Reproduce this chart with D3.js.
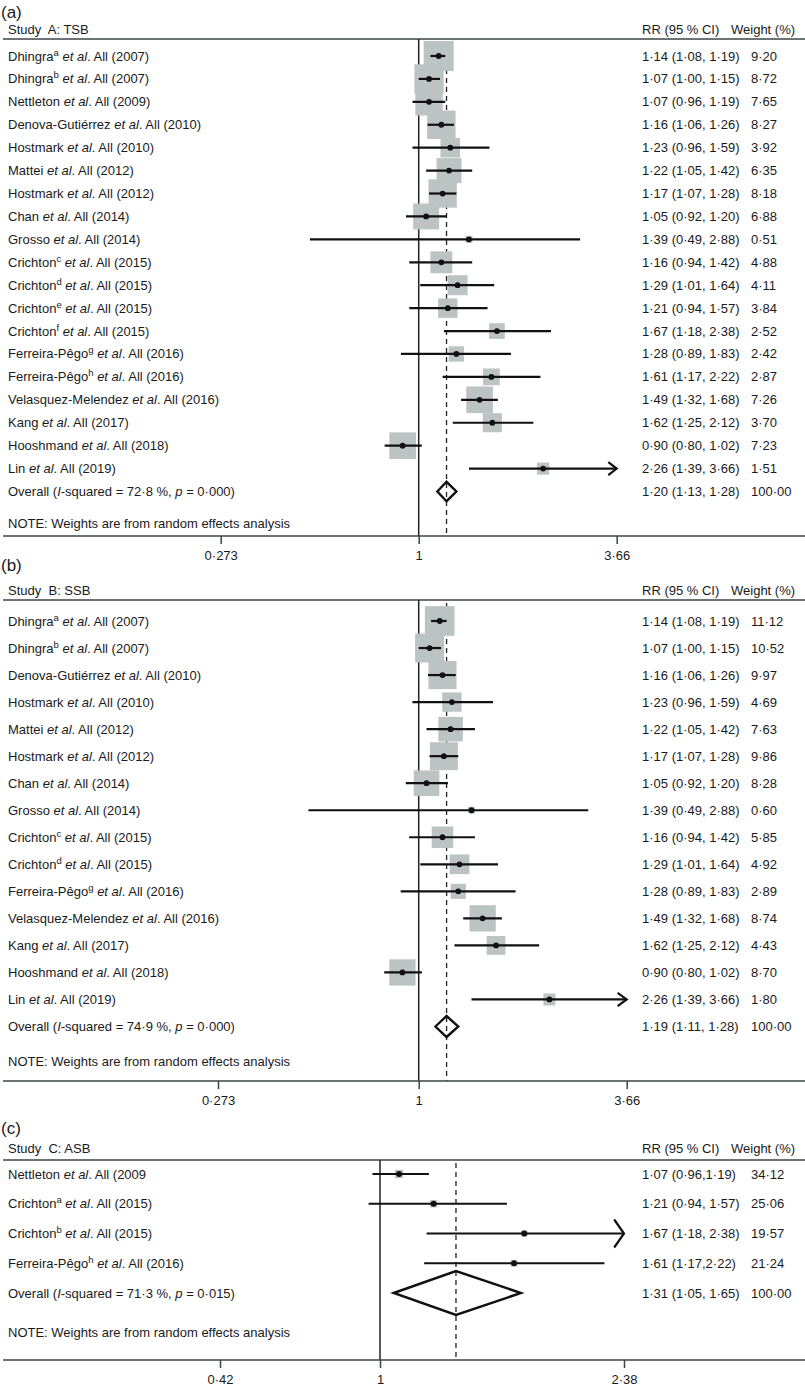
<!DOCTYPE html>
<html>
<head>
<meta charset="utf-8">
<script src="https://cdn.jsdelivr.net/npm/d3@7"></script>
<style>
  body { margin: 0; background: #fff; }
  svg { display: block; font-family: "Liberation Sans", Arial, sans-serif; }
  svg text { white-space: pre; fill: #1a1a1a; }
</style>
</head>
<body>
<svg id="chart" width="805" height="1391"></svg>
<script>
// ---- A: TSB ----
const authorsA = ["Dhingra", "Dhingra", "Nettleton", "Denova-Gutiérrez", "Hostmark", "Mattei", "Hostmark", "Chan", "Grosso",
  "Crichton", "Crichton", "Crichton", "Crichton", "Ferreira-Pêgo", "Ferreira-Pêgo", "Velasquez-Melendez", "Kang", "Hooshmand", "Lin"];
const supsA = ["a", "b", "", "", "", "", "", "", "", "c", "d", "e", "f", "g", "h", "", "", "", ""];
const yearsA = ["(2007)", "(2007)", "(2009)", "(2010)", "(2010)", "(2012)", "(2012)", "(2014)", "(2014)", "(2015)", "(2015)",
  "(2015)", "(2015)", "(2016)", "(2016)", "(2016)", "(2017)", "(2018)", "(2019)"];
const rrA = [1.14, 1.07, 1.07, 1.16, 1.23, 1.22, 1.17, 1.05, 1.39, 1.16, 1.29, 1.21, 1.67, 1.28, 1.61, 1.49, 1.62, 0.90, 2.26];
const loA = [1.08, 1.00, 0.96, 1.06, 0.96, 1.05, 1.07, 0.92, 0.49, 0.94, 1.01, 0.94, 1.18, 0.89, 1.17, 1.32, 1.25, 0.80, 1.39];
const hiA = [1.19, 1.15, 1.19, 1.26, 1.59, 1.42, 1.28, 1.20, 2.88, 1.42, 1.64, 1.57, 2.38, 1.83, 2.22, 1.68, 2.12, 1.02, 3.66];
const weightA = [9.20, 8.72, 7.65, 8.27, 3.92, 6.35, 8.18, 6.88, 0.51, 4.88, 4.11, 3.84, 2.52, 2.42, 2.87, 7.26, 3.70, 7.23, 1.51];
const overallA = [1.20, 1.13, 1.28];
const totalWeightA = 100.00;
const statsA = ["72·8", "0·000"];
const ticksA = [0.273, 1, 3.66];
const tickLabelsA = ["0·273", "1", "3·66"];

// ---- B: SSB ----
const authorsB = ["Dhingra", "Dhingra", "Denova-Gutiérrez", "Hostmark", "Mattei", "Hostmark", "Chan", "Grosso", "Crichton",
  "Crichton", "Ferreira-Pêgo", "Velasquez-Melendez", "Kang", "Hooshmand", "Lin"];
const supsB = ["a", "b", "", "", "", "", "", "", "c", "d", "g", "", "", "", ""];
const yearsB = ["(2007)", "(2007)", "(2010)", "(2010)", "(2012)", "(2012)", "(2014)", "(2014)", "(2015)", "(2015)", "(2016)",
  "(2016)", "(2017)", "(2018)", "(2019)"];
const rrB = [1.14, 1.07, 1.16, 1.23, 1.22, 1.17, 1.05, 1.39, 1.16, 1.29, 1.28, 1.49, 1.62, 0.90, 2.26];
const loB = [1.08, 1.00, 1.06, 0.96, 1.05, 1.07, 0.92, 0.49, 0.94, 1.01, 0.89, 1.32, 1.25, 0.80, 1.39];
const hiB = [1.19, 1.15, 1.26, 1.59, 1.42, 1.28, 1.20, 2.88, 1.42, 1.64, 1.83, 1.68, 2.12, 1.02, 3.66];
const weightB = [11.12, 10.52, 9.97, 4.69, 7.63, 9.86, 8.28, 0.60, 5.85, 4.92, 2.89, 8.74, 4.43, 8.70, 1.80];
const overallB = [1.19, 1.11, 1.28];
const totalWeightB = 100.00;
const statsB = ["74·9", "0·000"];
const ticksB = [0.273, 1, 3.66];
const tickLabelsB = ["0·273", "1", "3·66"];

// ---- C: ASB ----
const authorsC = ["Nettleton", "Crichton", "Crichton", "Ferreira-Pêgo"];
const supsC = ["", "a", "b", "h"];
const yearsC = ["(2009", "(2015)", "(2015)", "(2016)"];
const rrC = [1.07, 1.21, 1.67, 1.61];
const loC = [0.96, 0.94, 1.18, 1.17];
const hiC = [1.19, 1.57, 2.38, 2.22];
const ciSepC = [",", ", ", ", ", ","];
const weightC = [34.12, 25.06, 19.57, 21.24];
const overallC = [1.31, 1.05, 1.65];
const totalWeightC = 100.00;
const statsC = ["71·3", "0·015"];
const ticksC = [0.42, 1, 2.38];
const tickLabelsC = ["0·42", "1", "2·38"];

const svg = d3.select("#chart");
const f2 = v => d3.format(".2f")(v).replace(".", "·");
const FS = 13;
const LINE = "#3d4545";

function drawPanel(cfg, d) {
  const g = svg.append("g");
  const n = d.rr.length;
  const x = d3.scaleLog().domain(d.ticks).range(cfg.xr);
  const y = d3.scaleLinear().domain([0, n]).range([cfg.rowTop, cfg.rowBot]);
  const xMax = d3.max(d.ticks);

  g.append("text").attr("x", 1).attr("y", cfg.letterY + 6).attr("font-size", 17).text(cfg.letter);

  // header
  g.append("text").attr("x", 8).attr("y", cfg.headY + 4.5).attr("font-size", FS).text("Study  " + d.title);
  g.append("text").attr("x", 642).attr("y", cfg.headY + 4.5).attr("font-size", FS).text("RR (95 % CI)");
  g.append("text").attr("x", 731).attr("y", cfg.headY + 4.5).attr("font-size", FS).text("Weight (%)");
  g.append("line").attr("x1", 3).attr("x2", 805).attr("y1", cfg.lineY).attr("y2", cfg.lineY)
    .attr("stroke", LINE).attr("stroke-width", 1.6);

  // reference lines
  g.append("line").attr("x1", x(1)).attr("x2", x(1)).attr("y1", cfg.lineY).attr("y2", cfg.axisY)
    .attr("stroke", "#222").attr("stroke-width", 1.5);
  g.append("line").attr("x1", x(d.overall[0])).attr("x2", x(d.overall[0]))
    .attr("y1", cfg.lineY + 3).attr("y2", cfg.axisY)
    .attr("stroke", "#222").attr("stroke-width", 1.3).attr("stroke-dasharray", "5,4");

  const rows = d3.range(n);

  // weight boxes
  g.selectAll("rect.box").data(rows).join("rect").attr("class", "box")
    .attr("x", i => x(d.rr[i]) - cfg.k * Math.sqrt(d.w[i]) / 2)
    .attr("y", i => y(i) - cfg.k * Math.sqrt(d.w[i]) / 2)
    .attr("width", i => cfg.k * Math.sqrt(d.w[i]))
    .attr("height", i => cfg.k * Math.sqrt(d.w[i]))
    .attr("fill", "#bcc3c3");

  // CIs
  g.selectAll("line.ci").data(rows).join("line").attr("class", "ci")
    .attr("x1", i => x(d.lo[i])).attr("x2", i => x(d.hi[i]))
    .attr("y1", i => y(i)).attr("y2", i => y(i))
    .attr("stroke", "#111").attr("stroke-width", 2.2);

  // arrows for CIs running to the axis end
  g.selectAll("path.arrow").data(rows.filter(i => d.hi[i] >= xMax)).join("path").attr("class", "arrow")
    .attr("d", i => `M${x(d.hi[i]) - cfg.ah * 1.4},${y(i) - cfg.aw}L${x(d.hi[i])},${y(i)}L${x(d.hi[i]) - cfg.ah * 1.4},${y(i) + cfg.aw}`)
    .attr("fill", "none").attr("stroke", "#111").attr("stroke-width", 2.2);

  g.selectAll("circle.pt").data(rows).join("circle").attr("class", "pt")
    .attr("cx", i => x(d.rr[i])).attr("cy", i => y(i)).attr("r", 2.9).attr("fill", "#111");

  // overall diamond
  const yo = y(n);
  g.append("path")
    .attr("d", `M${x(d.overall[1])},${yo}L${x(d.overall[0])},${yo - cfg.dh}L${x(d.overall[2])},${yo}L${x(d.overall[0])},${yo + cfg.dh}Z`)
    .attr("fill", "none").attr("stroke", "#111").attr("stroke-width", 2.4);

  // study labels
  rows.forEach(i => {
    const t = g.append("text").attr("x", 8).attr("y", y(i) + 4.5).attr("font-size", FS);
    t.append("tspan").text(d.authors[i]);
    if (d.sups[i]) t.append("tspan").attr("dy", -5).attr("font-size", 9.5).text(d.sups[i]);
    t.append("tspan").attr("dy", d.sups[i] ? 5 : null).text(" ");
    t.append("tspan").attr("font-style", "italic").text("et al");
    t.append("tspan").text(". All " + d.years[i]);
    const sep = d.sep ? d.sep[i] : ", ";
    g.append("text").attr("x", 642).attr("y", y(i) + 4.5).attr("font-size", FS)
      .text(`${f2(d.rr[i])} (${f2(d.lo[i])}${sep}${f2(d.hi[i])})`);
    g.append("text").attr("x", 751).attr("y", y(i) + 4.5).attr("font-size", FS).text(f2(d.w[i]));
  });

  const to = g.append("text").attr("x", 8).attr("y", yo + 4.5).attr("font-size", FS);
  to.append("tspan").text("Overall (");
  to.append("tspan").attr("font-style", "italic").text("I");
  to.append("tspan").text(`-squared = ${d.stats[0]} %, `);
  to.append("tspan").attr("font-style", "italic").text("p");
  to.append("tspan").text(` = ${d.stats[1]})`);
  g.append("text").attr("x", 642).attr("y", yo + 4.5).attr("font-size", FS)
    .text(`${f2(d.overall[0])} (${f2(d.overall[1])}, ${f2(d.overall[2])})`);
  g.append("text").attr("x", 751).attr("y", yo + 4.5).attr("font-size", FS).text(f2(d.total));

  g.append("text").attr("x", 8).attr("y", cfg.noteY + 4.5).attr("font-size", FS)
    .text("NOTE: Weights are from random effects analysis");

  // axis
  g.append("line").attr("x1", 3).attr("x2", 805).attr("y1", cfg.axisY).attr("y2", cfg.axisY)
    .attr("stroke", LINE).attr("stroke-width", 1.6);
  const axis = d3.axisBottom(x).tickValues(d.ticks).tickFormat((v, i) => d.tickLabels[i])
    .tickSize(8).tickPadding(7);
  const ag = g.append("g").attr("transform", `translate(0,${cfg.axisY})`).call(axis);
  ag.select(".domain").remove();
  ag.selectAll(".tick line").attr("stroke", LINE).attr("stroke-width", 1.5);
  ag.selectAll(".tick text").attr("font-size", FS).attr("font-family", null).attr("fill", "#1a1a1a");
}

drawPanel(
  { letter: "(a)", letterY: 12, headY: 29, lineY: 39, rowTop: 56, rowBot: 491.5, noteY: 523, axisY: 536,
    xr: [220.7, 418.7, 616.7], k: 9.9, dh: 9.7, ah: 6, aw: 6.5 },
  { title: "A: TSB", authors: authorsA, sups: supsA, years: yearsA, rr: rrA, lo: loA, hi: hiA, w: weightA,
    overall: overallA, total: totalWeightA, stats: statsA, ticks: ticksA, tickLabels: tickLabelsA });

drawPanel(
  { letter: "(b)", letterY: 565, headY: 590.5, lineY: 600, rowTop: 621, rowBot: 1026.5, noteY: 1061, axisY: 1081,
    xr: [218, 418.7, 626.7], k: 8.9, dh: 10.5, ah: 6.5, aw: 6.7 },
  { title: "B: SSB", authors: authorsB, sups: supsB, years: yearsB, rr: rrB, lo: loB, hi: hiB, w: weightB,
    overall: overallB, total: totalWeightB, stats: statsB, ticks: ticksB, tickLabels: tickLabelsB });

drawPanel(
  { letter: "(c)", letterY: 1128, headY: 1148, lineY: 1160, rowTop: 1174, rowBot: 1293, noteY: 1332, axisY: 1360,
    xr: [220, 380, 624], k: 1.45, dh: 22, ah: 7, aw: 14 },
  { title: "C: ASB", authors: authorsC, sups: supsC, years: yearsC, rr: rrC, lo: loC, hi: hiC, w: weightC, sep: ciSepC,
    overall: overallC, total: totalWeightC, stats: statsC, ticks: ticksC, tickLabels: tickLabelsC });
</script>
</body>
</html>
